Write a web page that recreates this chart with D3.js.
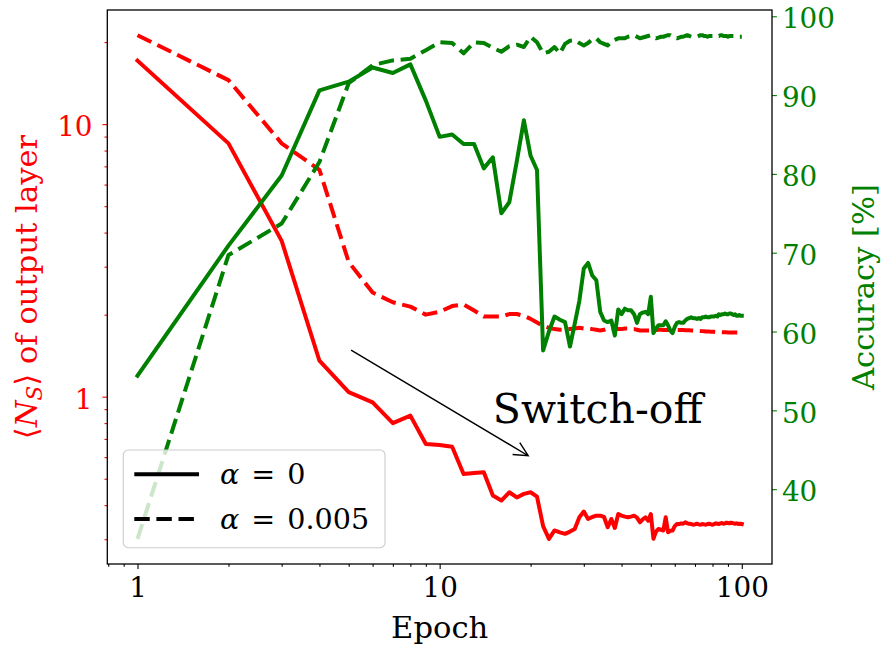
<!DOCTYPE html>
<html>
<head>
<meta charset="utf-8">
<script src="https://cdn.jsdelivr.net/npm/d3@7"></script>
<style>
  body { margin: 0; background: #fff; }
  svg text { font-family: "DejaVu Serif", serif; }
</style>
</head>
<body>
<svg id="chart" width="885" height="648"></svg>
<script>
// epochs 1..100
const epochs = d3.range(1, 101);

// <N_S> of output layer, alpha = 0 (solid red)
const nsAlpha0 = [
  17.1, 8.5, 3.73, 1.355, 1.04, 0.953, 0.80, 0.852, 0.671, 0.665,
  0.655, 0.52, 0.525, 0.528, 0.434, 0.416, 0.446, 0.427, 0.44, 0.446,
  0.43, 0.335, 0.301, 0.323, 0.318, 0.314, 0.32, 0.327, 0.361, 0.379,
  0.356, 0.362, 0.366, 0.366, 0.362, 0.332, 0.356, 0.330, 0.371, 0.366,
  0.363, 0.361, 0.363, 0.366, 0.36, 0.346, 0.355, 0.361, 0.351, 0.371,
  0.301, 0.32, 0.327, 0.325, 0.323, 0.361, 0.318, 0.322, 0.323, 0.335,
  0.341, 0.341, 0.343, 0.342, 0.346, 0.343, 0.342, 0.341, 0.339, 0.340,
  0.342, 0.340, 0.339, 0.341, 0.340, 0.339, 0.341, 0.342, 0.340, 0.339,
  0.341, 0.343, 0.342, 0.341, 0.343, 0.344, 0.342, 0.343, 0.345, 0.344,
  0.343, 0.345, 0.344, 0.343, 0.342, 0.343, 0.342, 0.341, 0.342, 0.341
];
// alpha = 0.005 (dashed red)
const nsAlpha005 = [
  21.2, 14.5, 8.5, 6.8, 3.12, 2.41, 2.22, 2.14, 2.0, 2.05,
  2.15, 2.18, 2.07, 1.97, 1.97, 1.97, 2.01, 2.01, 1.98, 1.93,
  1.87, 1.82, 1.79, 1.77, 1.76, 1.76, 1.77, 1.78, 1.79, 1.78,
  1.78, 1.77, 1.76, 1.75, 1.76, 1.78, 1.78, 1.77, 1.77, 1.77,
  1.78, 1.78, 1.77, 1.77, 1.76, 1.75, 1.75, 1.75, 1.75, 1.75,
  1.75, 1.755, 1.76, 1.76, 1.755, 1.755, 1.757, 1.757, 1.755, 1.755,
  1.757, 1.757, 1.755, 1.755, 1.753, 1.752, 1.752, 1.75, 1.75, 1.748,
  1.745, 1.745, 1.742, 1.74, 1.738, 1.736, 1.735, 1.733, 1.732, 1.73,
  1.73, 1.728, 1.727, 1.726, 1.725, 1.724, 1.723, 1.722, 1.722, 1.721,
  1.721, 1.72, 1.72, 1.72, 1.72, 1.72, 1.72, 1.72, 1.72, 1.72
];
// accuracy [%], alpha = 0 (solid green)
const accAlpha0 = [
  54.4, 70.9, 79.8, 90.6, 91.7, 93.5, 92.8, 93.9, 89.3, 84.7,
  85.0, 83.8, 83.8, 80.7, 82.1, 75.0, 76.4, 81.6, 86.8, 82.3,
  80.5, 57.6, 60.0, 61.9, 61.5, 61.2, 58.1, 61.0, 63.9, 68.0,
  68.7, 67.1, 66.5, 62.5, 61.4, 61.2, 61.4, 59.5, 62.8, 62.2,
  62.9, 62.7, 62.7, 62.2, 61.1, 62.2, 62.4, 62.5, 62.2, 64.4,
  59.8, 60.4, 60.8, 60.8, 60.8, 61.3, 60.8, 60.1, 59.8, 60.6,
  61.1, 61.2, 61.1, 61.1, 61.4, 61.6, 61.7, 61.8, 61.7, 61.7,
  61.6, 61.7, 61.6, 61.8, 61.8, 61.9, 61.8, 61.8, 61.9, 61.9,
  61.9, 62.0, 61.9, 62.2, 62.1, 62.2, 62.2, 62.3, 62.2, 62.2,
  62.3, 62.3, 62.2, 62.1, 62.2, 62.0, 62.0, 62.1, 62.0, 62.0
];
// accuracy [%], alpha = 0.005 (dashed green)
const accAlpha005 = [
  33.7, 69.7, 73.7, 81.5, 91.5, 93.8, 94.4, 94.6, 95.7, 96.7,
  96.6, 95.3, 96.7, 96.6, 96.0, 95.5, 96.2, 96.4, 96.1, 97.4,
  96.7, 95.3, 95.5, 96.1, 95.3, 96.5, 96.9, 97.0, 96.6, 96.3,
  96.6, 97.1, 97.2, 96.7, 96.5, 96.3, 96.8, 97.0, 97.2, 97.2,
  97.2, 97.4, 97.5, 97.6, 97.4, 97.2, 97.3, 97.4, 97.5, 97.6,
  97.4, 97.2, 97.3, 97.4, 97.4, 97.5, 97.6, 97.6, 97.4, 97.3,
  97.2, 97.3, 97.4, 97.4, 97.5, 97.6, 97.5, 97.4, 97.4, 97.4,
  97.4, 97.5, 97.6, 97.6, 97.5, 97.5, 97.4, 97.5, 97.5, 97.5,
  97.6, 97.6, 97.5, 97.5, 97.6, 97.6, 97.5, 97.5, 97.5, 97.4,
  97.5, 97.5, 97.5, 97.5, 97.5, 97.4, 97.4, 97.4, 97.4, 97.4
];

const xMajorTicks = [1, 10, 100];
const yLeftMajorTicks = [1, 10];
const yRightTicks = [40, 50, 60, 70, 80, 90, 100];
const legendLabels = ["0", "0.005"];

// annotation (data units)
const arrowFrom = [5, 1.5];
const arrowTo = [20, 0.6];
const switchLabelAt = [15, 0.8];
const switchLabel = "Switch-off";

const RED = "#ff0000", GREEN = "#008000";
const FS = 27.8;      // tick labels
const FS_LAB = 30.6;  // axis titles

const svg = d3.select("#chart");
const W = 885, H = 648;
const m = { top: 10, right: 113, bottom: 84, left: 107.3 };
const w = W - m.left - m.right;
const h = H - m.top - m.bottom;

// matplotlib-like 5% data margins
const logPad = ([a, b]) => {
  const la = Math.log10(a), lb = Math.log10(b), p = (lb - la) * 0.05;
  return [10 ** (la - p), 10 ** (lb + p)];
};
const linPad = ([a, b]) => { const p = (b - a) * 0.05; return [a - p, b + p]; };

const x = d3.scaleLog().domain(logPad(d3.extent(epochs))).range([0, w]);
const yL = d3.scaleLog().domain(logPad(d3.extent(nsAlpha0.concat(nsAlpha005)))).range([h, 0]);
const yR = d3.scaleLinear().domain(linPad(d3.extent(accAlpha0.concat(accAlpha005)))).range([h, 0]);

const g = svg.append("g").attr("transform", `translate(${m.left},${m.top})`);

svg.append("defs").append("clipPath").attr("id", "plotClip")
  .append("rect").attr("width", w).attr("height", h);

const lineL = d3.line().x((d, i) => x(epochs[i])).y(d => yL(d));
const lineR = d3.line().x((d, i) => x(epochs[i])).y(d => yR(d));

const dash = "15.4,6.7";
const LW = 4;

// ---- left axes (red) ----
const plotL = g.append("g").attr("clip-path", "url(#plotClip)");
plotL.append("path").datum(nsAlpha0).attr("d", lineL)
  .attr("fill", "none").attr("stroke", RED).attr("stroke-width", LW)
  .attr("stroke-linejoin", "round").attr("stroke-linecap", "square");
plotL.append("path").datum(nsAlpha005).attr("d", lineL)
  .attr("fill", "none").attr("stroke", RED).attr("stroke-width", LW)
  .attr("stroke-linejoin", "round").attr("stroke-dasharray", dash);

// annotation arrow
{
  const p0 = [x(arrowFrom[0]), yL(arrowFrom[1])];
  const p1 = [x(arrowTo[0]), yL(arrowTo[1])];
  const dx = p1[0] - p0[0], dy = p1[1] - p0[1], len = Math.hypot(dx, dy);
  const u = [dx / len, dy / len], n = [-u[1], u[0]];
  const s = 2.8;
  const a = [p0[0] + u[0] * s, p0[1] + u[1] * s];
  const b = [p1[0] - u[0] * s, p1[1] - u[1] * s];
  const hl = 14, hw = 7;
  const h1 = [b[0] - u[0] * hl + n[0] * hw, b[1] - u[1] * hl + n[1] * hw];
  const h2 = [b[0] - u[0] * hl - n[0] * hw, b[1] - u[1] * hl - n[1] * hw];
  g.append("path")
    .attr("d", `M${a}L${b}M${h1}L${b}L${h2}`)
    .attr("fill", "none").attr("stroke", "#000").attr("stroke-width", 1.4)
    .attr("stroke-linejoin", "miter");
}
g.append("text")
  .attr("x", x(switchLabelAt[0])).attr("y", yL(switchLabelAt[1]))
  .attr("font-size", 41).attr("fill", "#000")
  .text(switchLabel);

// x axis
const xAxisG = g.append("g").attr("transform", `translate(0,${h})`);
xAxisG.append("g")
  .call(d3.axisBottom(x).tickValues(x.ticks().filter(t => !xMajorTicks.includes(t)))
    .tickSize(2.8).tickFormat(""))
  .call(s => s.select(".domain").remove());
xAxisG.append("g")
  .call(d3.axisBottom(x).tickValues(xMajorTicks).tickSize(4.9).tickPadding(8.4)
    .tickFormat(d3.format("d")))
  .call(s => s.select(".domain").remove())
  .call(s => s.selectAll("text").attr("font-size", FS).attr("font-family", "DejaVu Serif").attr("fill", "#000"));
xAxisG.selectAll("line").attr("stroke", "#000").attr("stroke-width", 1.1);

// left y axis
const yLG = g.append("g");
yLG.append("g")
  .call(d3.axisLeft(yL).tickValues(yL.ticks().filter(t => !yLeftMajorTicks.includes(t)))
    .tickSize(2.8).tickFormat(""))
  .call(s => s.select(".domain").remove());
yLG.append("g")
  .call(d3.axisLeft(yL).tickValues(yLeftMajorTicks).tickSize(4.9).tickPadding(9.9)
    .tickFormat(d3.format("d")))
  .call(s => s.select(".domain").remove())
  .call(s => s.selectAll("text").attr("font-size", FS).attr("font-family", "DejaVu Serif")
    .attr("fill", RED).attr("dy", "0.42em"));
yLG.selectAll("line").attr("stroke", RED).attr("stroke-width", 1.1);

// ---- right axes (green), drawn on top ----
const plotR = g.append("g").attr("clip-path", "url(#plotClip)");
plotR.append("path").datum(accAlpha0).attr("d", lineR)
  .attr("fill", "none").attr("stroke", GREEN).attr("stroke-width", LW)
  .attr("stroke-linejoin", "round").attr("stroke-linecap", "square");
plotR.append("path").datum(accAlpha005).attr("d", lineR)
  .attr("fill", "none").attr("stroke", GREEN).attr("stroke-width", LW)
  .attr("stroke-linejoin", "round").attr("stroke-dasharray", dash);

const yRG = g.append("g").attr("transform", `translate(${w},0)`)
  .call(d3.axisRight(yR).tickValues(yRightTicks).tickSize(4.9).tickPadding(5)
    .tickFormat(d3.format("d")))
  .call(s => s.select(".domain").remove())
  .call(s => s.selectAll("text").attr("font-size", FS).attr("font-family", "DejaVu Serif")
    .attr("fill", GREEN).attr("dy", "0.42em"));
yRG.selectAll("line").attr("stroke", GREEN).attr("stroke-width", 1.1);

// legend
const leg = g.append("g").attr("transform", "translate(16,440)");
leg.append("rect").attr("width", 261.7).attr("height", 97.7).attr("rx", 5)
  .attr("fill", "#fff").attr("fill-opacity", 0.8)
  .attr("stroke", "#cccccc").attr("stroke-width", 1.1);
legendLabels.forEach((lab, i) => {
  const yy = 24.3 + i * 44.7;
  leg.append("line").attr("x1", 11).attr("x2", 75.7).attr("y1", yy).attr("y2", yy)
    .attr("stroke", "#000").attr("stroke-width", LW)
    .attr("stroke-dasharray", i === 0 ? null : dash);
  const t = leg.append("text").attr("x", 96.7).attr("y", yy + 10)
    .attr("font-size", 28.6).attr("fill", "#000");
  t.append("tspan").attr("font-style", "italic").text("α");
  t.append("tspan").attr("dx", 12).text("=");
  t.append("tspan").attr("dx", 12).text(lab);
});

// frame
g.append("rect").attr("width", w).attr("height", h)
  .attr("fill", "none").attr("stroke", "#000").attr("stroke-width", 1.3);

// axis titles
svg.append("text")
  .attr("x", m.left + w / 2).attr("y", 638)
  .attr("text-anchor", "middle").attr("font-size", FS_LAB).attr("fill", "#000")
  .text("Epoch");

const tl = svg.append("text")
  .attr("transform", `translate(37,${m.top + h / 2}) rotate(-90)`)
  .attr("text-anchor", "middle").attr("font-size", FS_LAB).attr("fill", RED);
tl.append("tspan").text("⟨");
tl.append("tspan").attr("font-style", "italic").text("N");
tl.append("tspan").attr("font-style", "italic").attr("font-size", FS_LAB * 0.7).attr("dy", 5).text("S");
tl.append("tspan").attr("dy", -5).text("⟩ of output layer");

svg.append("text")
  .attr("transform", `translate(874,${m.top + h / 2}) rotate(-90)`)
  .attr("text-anchor", "middle").attr("font-size", FS_LAB).attr("fill", GREEN)
  .text("Accuracy [%]");
</script>
</body>
</html>
